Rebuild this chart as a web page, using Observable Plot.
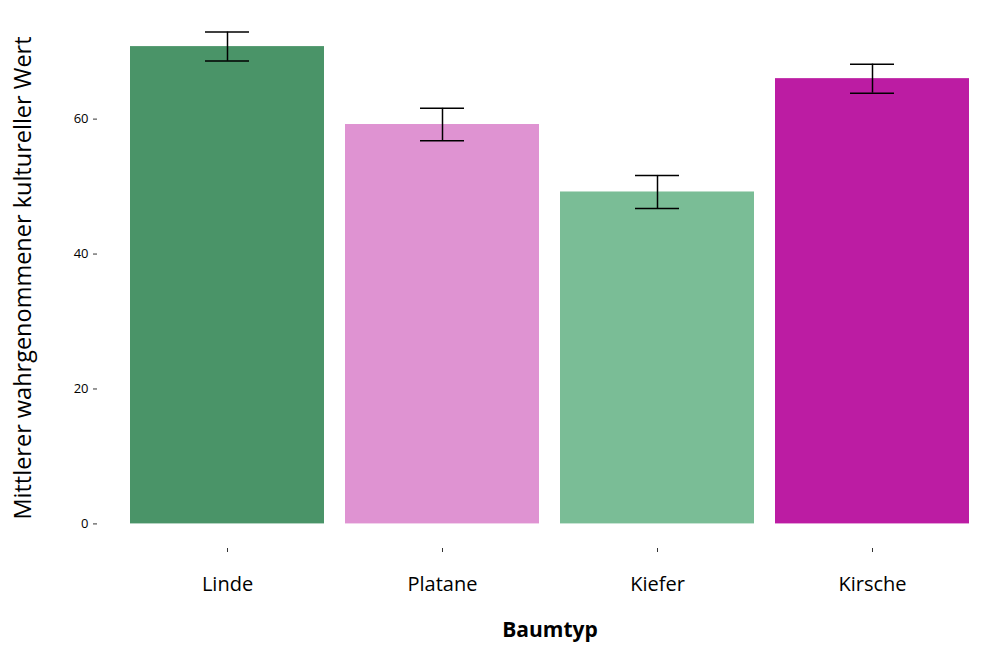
<!DOCTYPE html>
<html>
<head>
<meta charset="utf-8">
<script src="https://cdn.jsdelivr.net/npm/d3@7"></script>
<script src="https://cdn.jsdelivr.net/npm/@observablehq/plot@0.6"></script>
<style>
  body { margin: 0; background: white; }
  #chart svg { font-family: "Open Sans", sans-serif; }
</style>
</head>
<body>
<div id="chart"></div>
<script>
// Mittelwerte je Baumtyp mit Fehlerbalken
const baumtyp = ["Linde", "Platane", "Kiefer", "Kirsche"]
const mittelwert = [70.75, 59.2, 49.2, 66.0]
const fehler = [2.15, 2.4, 2.45, 2.15]
const farben = ["#4a9468", "#df93d2", "#7abd96", "#bc1ca3"]
const yTicks = [0, 20, 40, 60]

const daten = baumtyp.map((b, i) => ({
  baum: b,
  wert: mittelwert[i],
  unten: mittelwert[i] - fehler[i],
  oben: mittelwert[i] + fehler[i]
}))

// ggplot-artige Ausdehnung: 5% oben und unten
const yMax = d3.max(daten, d => d.oben)
const pad = yMax * 0.05

const chart = Plot.plot({
  width: 1000,
  height: 658,
  marginLeft: 97,
  marginRight: -2,
  marginTop: 7,
  marginBottom: 110,
  x: {domain: baumtyp, paddingInner: 0.1, paddingOuter: 0.15},
  y: {domain: [-pad, yMax + pad]},
  color: {domain: baumtyp, range: farben},
  marks: [
    Plot.barY(daten, {x: "baum", y: "wert", fill: "baum"}),
    Plot.ruleX(daten, {x: "baum", y1: "unten", y2: "oben", stroke: "black", strokeWidth: 1.5}),
    Plot.tickY(daten, {x: "baum", y: "unten", stroke: "black", strokeWidth: 1.5, insetLeft: 75, insetRight: 75}),
    Plot.tickY(daten, {x: "baum", y: "oben", stroke: "black", strokeWidth: 1.5, insetLeft: 75, insetRight: 75}),
    Plot.axisY({ticks: yTicks, tickSize: 4, tickPadding: 5, fontSize: 13, label: null, stroke: "#333"}),
    Plot.axisX({tickSize: 4, tickPadding: 24, fontSize: 20, label: null, stroke: "#333"}),
    Plot.text(["Baumtyp"], {frameAnchor: "bottom", dy: 88, fontSize: 21, fontWeight: "bold", fill: "black"}),
    Plot.text(["Mittlerer wahrgenommener kultureller Wert"], {frameAnchor: "left", textAnchor: "middle", rotate: -90, dx: -74, fontSize: 23.5, fill: "black"})
  ]
})

d3.select("#chart").append(() => chart)
</script>
</body>
</html>
